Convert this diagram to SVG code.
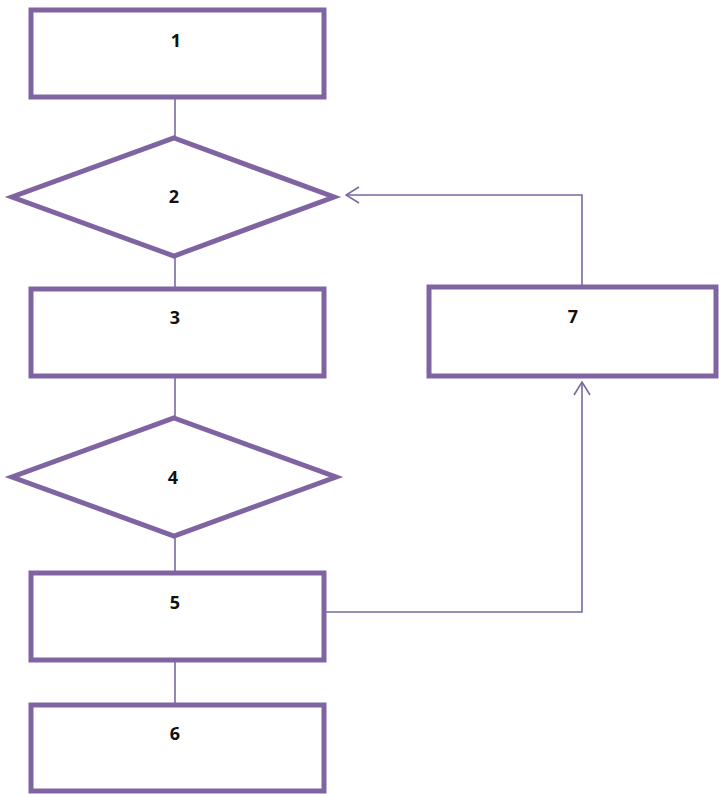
<svg xmlns="http://www.w3.org/2000/svg" width="719" height="794" viewBox="0 0 719 794">
  <style>
    .shape { fill: #ffffff; stroke: #8064a2; stroke-width: 5; stroke-linejoin: miter; }
    .label { font-family: "Open Sans", "Liberation Sans", sans-serif; font-weight: bold; font-size: 18px; fill: #111111; text-anchor: middle; dominant-baseline: central; }
    .conn { fill: none; stroke: #7b68a0; stroke-width: 1.6; }
  </style>
  <defs>
    <!-- open chevron head, tip at the line end -->
    <marker id="open-arrow" viewBox="0 0 16 18" refX="15" refY="9" markerWidth="16" markerHeight="18" markerUnits="userSpaceOnUse" orient="auto">
      <path d="M 2 1 L 15 9 L 2 17" fill="none" stroke="#7b68a0" stroke-width="1.6"/>
    </marker>
  </defs>

  <!-- connectors -->
  <g id="connectors">
    <line class="conn" x1="175" y1="98" x2="175" y2="137"/>
    <line class="conn" x1="175" y1="257" x2="175" y2="288"/>
    <line class="conn" x1="175" y1="377" x2="175" y2="417"/>
    <line class="conn" x1="175" y1="537" x2="175" y2="572"/>
    <line class="conn" x1="175" y1="662" x2="175" y2="703"/>
    <!-- 7 back to decision 2 -->
    <path class="conn" d="M 582 286 L 582 195 L 346 195" marker-end="url(#open-arrow)"/>
    <!-- 5 to 7 -->
    <path class="conn" d="M 326 612 L 582 612 L 582 382" marker-end="url(#open-arrow)"/>
  </g>

  <g id="node1">
    <rect class="shape" x="31" y="10" width="293" height="87"/>
    <text class="label" x="176" y="40">1</text>
  </g>
  <g id="node2">
    <polygon class="shape" points="174,138 334,197 174,256 12,197"/>
    <text class="label" x="174" y="196">2</text>
  </g>
  <g id="node3">
    <rect class="shape" x="31" y="289" width="293" height="87"/>
    <text class="label" x="175" y="317">3</text>
  </g>
  <g id="node4">
    <polygon class="shape" points="174,418 336,477 174,536 12,477"/>
    <text class="label" x="173" y="477">4</text>
  </g>
  <g id="node5">
    <rect class="shape" x="31" y="573" width="293" height="87"/>
    <text class="label" x="175" y="602">5</text>
  </g>
  <g id="node6">
    <rect class="shape" x="31" y="705" width="293" height="86"/>
    <text class="label" x="175" y="733">6</text>
  </g>
  <g id="node7">
    <rect class="shape" x="429" y="287" width="287" height="89"/>
    <text class="label" x="573" y="316">7</text>
  </g>
</svg>
